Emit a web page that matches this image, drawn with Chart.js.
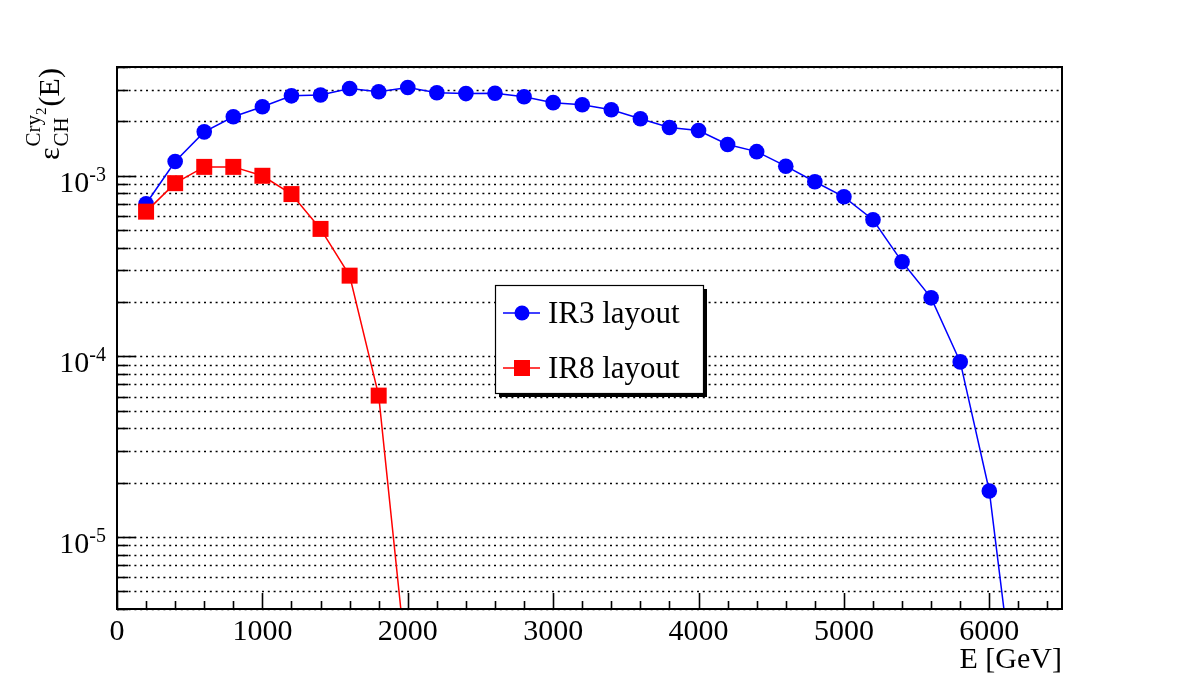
<!DOCTYPE html>
<html>
<head>
<meta charset="utf-8">
<script src="https://cdn.jsdelivr.net/npm/chart.js@4/dist/chart.umd.min.js"></script>
<style>
  html, body { margin: 0; padding: 0; background: #ffffff; }
  #wrap { width: 1182px; height: 678px; position: relative; }
</style>
</head>
<body>
<div id="wrap"><canvas id="c" width="1182" height="678"></canvas></div>
<script>
// ---- data ----
const ir3Energy = [200, 400, 600, 800, 1000, 1200, 1400, 1600, 1800, 2000,
                   2200, 2400, 2600, 2800, 3000, 3200, 3400, 3600, 3800, 4000,
                   4200, 4400, 4600, 4800, 5000, 5200, 5400, 5600, 5800, 6000, 6200];
const ir3Eff = [7.0e-4, 1.2e-3, 1.75e-3, 2.12e-3, 2.41e-3, 2.77e-3, 2.8e-3, 3.04e-3, 2.92e-3, 3.08e-3,
                2.88e-3, 2.85e-3, 2.86e-3, 2.74e-3, 2.54e-3, 2.47e-3, 2.32e-3, 2.07e-3, 1.85e-3, 1.78e-3,
                1.49e-3, 1.36e-3, 1.13e-3, 9.27e-4, 7.65e-4, 5.71e-4, 3.34e-4, 2.11e-4, 9.33e-5, 1.8e-5, 9.0e-7];
const ir8Energy = [200, 400, 600, 800, 1000, 1200, 1400, 1600, 1800, 2000];
const ir8Eff = [6.33e-4, 9.1e-4, 1.12e-3, 1.12e-3, 1.0e-3, 7.92e-4, 5.08e-4, 2.8e-4, 6.07e-5, 1.7e-6];

const seriesNames = ['IR3 layout', 'IR8 layout'];
const xMajorTicks = [0, 1000, 2000, 3000, 4000, 5000, 6000];
const xMajorLabels = ['0', '1000', '2000', '3000', '4000', '5000', '6000'];
const xMinorStep = 200;
const yDecades = [-6, -5, -4, -3];
const yLabelDecades = [-5, -4, -3];
const xTitle = 'E [GeV]';

const X_MIN = 0, X_MAX = 6500, Y_MIN = 4e-6, Y_MAX = 4e-3;
const FONT = '"Liberation Serif", "DejaVu Serif", serif';

function pts(xs, ys) { return xs.map((x, i) => ({ x: x, y: ys[i] })); }

// y tick values (1..9 x 10^d)
const yTickValues = [];
yDecades.forEach(d => { for (let m = 1; m <= 9; m++) { const v = m * Math.pow(10, d); if (v >= Y_MIN * 0.999 && v <= Y_MAX * 1.001) yTickValues.push(v); } });

const rootAxes = {
  id: 'rootAxes',
  beforeDatasetsDraw(chart) {
    const ctx = chart.ctx, a = chart.chartArea, ys = chart.scales.y;
    ctx.save();
    ctx.strokeStyle = '#000';
    ctx.lineWidth = 1.4;
    ctx.setLineDash([2, 3.8]);
    yTickValues.forEach(v => {
      const py = Math.round(ys.getPixelForValue(v)) + 0.5;
      ctx.beginPath(); ctx.moveTo(a.left, py); ctx.lineTo(a.right, py); ctx.stroke();
    });
    ctx.restore();
  },
  afterDraw(chart) {
    const ctx = chart.ctx, a = chart.chartArea, xs = chart.scales.x, ys = chart.scales.y;
    ctx.save();
    // frame
    ctx.strokeStyle = '#000';
    ctx.lineWidth = 2;
    ctx.strokeRect(a.left, a.top, a.right - a.left, a.bottom - a.top);
    // y ticks
    ctx.lineWidth = 1.6;
    yTickValues.forEach(v => {
      const py = Math.round(ys.getPixelForValue(v)) + 0.5;
      const lg = Math.log10(v);
      const major = Math.abs(lg - Math.round(lg)) < 1e-6;
      ctx.beginPath(); ctx.moveTo(a.left, py); ctx.lineTo(a.left + (major ? 19 : 11), py); ctx.stroke();
    });
    // x ticks
    for (let v = X_MIN; v <= X_MAX; v += xMinorStep) {
      const px = Math.round(xs.getPixelForValue(v)) + 0.5;
      const major = v % 1000 === 0;
      ctx.beginPath(); ctx.moveTo(px, a.bottom); ctx.lineTo(px, a.bottom - (major ? 16 : 8)); ctx.stroke();
    }
    // x labels
    ctx.fillStyle = '#000';
    ctx.font = '30px ' + FONT;
    ctx.textAlign = 'center';
    ctx.textBaseline = 'alphabetic';
    xMajorTicks.forEach((v, i) => {
      ctx.fillText(xMajorLabels[i], xs.getPixelForValue(v), a.bottom + 31);
    });
    // y labels 10^n
    yLabelDecades.forEach(d => {
      const py = ys.getPixelForValue(Math.pow(10, d));
      const expText = String(d);
      ctx.font = '20px ' + FONT;
      const ew = ctx.measureText(expText).width;
      const right = a.left - 11;
      ctx.textAlign = 'left';
      ctx.fillText(expText, right - ew, py + 5);
      ctx.font = '30px ' + FONT;
      ctx.textAlign = 'right';
      ctx.fillText('10', right - ew, py + 16);
    });
    // x title
    ctx.font = '30px ' + FONT;
    ctx.textAlign = 'right';
    ctx.fillText(xTitle, a.right, 668);
    // y title (rotated)
    ctx.save();
    ctx.translate(59, 160);
    ctx.rotate(-Math.PI / 2);
    ctx.textAlign = 'left';
    ctx.font = '30px ' + FONT;
    ctx.fillText('\u03B5', 0, 0);
    const epsW = ctx.measureText('\u03B5').width;
    ctx.font = '21px ' + FONT;
    ctx.fillText('CH', epsW + 1, 9);
    const chW = ctx.measureText('CH').width;
    ctx.fillText('Cry', epsW + 1, -19);
    const cryW = ctx.measureText('Cry').width;
    ctx.font = '15px ' + FONT;
    ctx.fillText('2', epsW + 1 + cryW, -13);
    const twoW = ctx.measureText('2').width;
    const startE = epsW + 1 + Math.max(chW, cryW + twoW) + 1;
    ctx.font = '30px ' + FONT;
    ctx.fillText('(E)', startE, 0);
    ctx.restore();

    // legend
    const lx = 495, ly = 285, lw = 208, lh = 108;
    ctx.fillStyle = '#000';
    ctx.fillRect(lx + 4, ly + 4, lw, lh);
    ctx.fillStyle = '#fff';
    ctx.fillRect(lx, ly, lw, lh);
    ctx.strokeStyle = '#000';
    ctx.lineWidth = 1.2;
    ctx.strokeRect(lx + 0.5, ly + 0.5, lw, lh);
    const rows = [
      { y: 313, base: 323, color: '#0000ff', shape: 'circle', name: seriesNames[0] },
      { y: 368, base: 378, color: '#ff0000', shape: 'rect', name: seriesNames[1] }
    ];
    rows.forEach(r => {
      ctx.strokeStyle = r.color;
      ctx.lineWidth = 1.5;
      ctx.beginPath(); ctx.moveTo(503, r.y); ctx.lineTo(540, r.y); ctx.stroke();
      ctx.fillStyle = r.color;
      if (r.shape === 'circle') {
        ctx.beginPath(); ctx.arc(522, r.y, 7.5, 0, Math.PI * 2); ctx.fill();
      } else {
        ctx.fillRect(522 - 8, r.y - 8, 16, 16);
      }
      ctx.fillStyle = '#000';
      ctx.font = '31px ' + FONT;
      ctx.textAlign = 'left';
      ctx.fillText(r.name, 548, r.base);
    });
    ctx.restore();
  }
};

new Chart(document.getElementById('c'), {
  type: 'line',
  data: {
    datasets: [
      {
        label: seriesNames[1],
        data: pts(ir8Energy, ir8Eff),
        borderColor: '#ff0000',
        backgroundColor: '#ff0000',
        borderWidth: 1.5,
        pointStyle: 'rect',
        pointRadius: 11.3,
        pointBorderWidth: 0,
        pointBackgroundColor: '#ff0000',
        tension: 0,
        order: 1
      },
      {
        label: seriesNames[0],
        data: pts(ir3Energy, ir3Eff),
        borderColor: '#0000ff',
        backgroundColor: '#0000ff',
        borderWidth: 1.5,
        pointStyle: 'circle',
        pointRadius: 7.8,
        pointBorderWidth: 0,
        pointBackgroundColor: '#0000ff',
        tension: 0,
        order: 2
      }
    ]
  },
  options: {
    responsive: false,
    animation: false,
    layout: { padding: { left: 117, top: 67, right: 120, bottom: 69 } },
    scales: {
      x: { type: 'linear', min: X_MIN, max: X_MAX, display: false },
      y: { type: 'logarithmic', min: Y_MIN, max: Y_MAX, display: false }
    },
    plugins: { legend: { display: false }, tooltip: { enabled: false } }
  },
  plugins: [rootAxes]
});
</script>
</body>
</html>
